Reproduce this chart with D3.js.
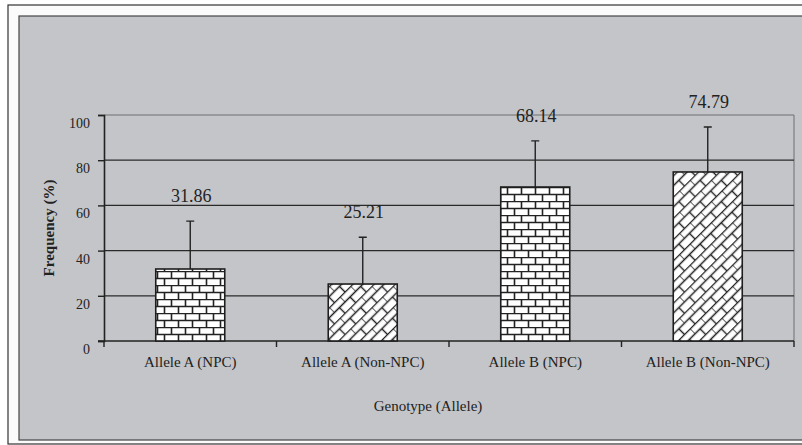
<!DOCTYPE html>
<html>
<head>
<meta charset="utf-8">
<script src="https://cdn.jsdelivr.net/npm/d3@7"></script>
<style>
  body { margin: 0; background: #fff; }
  svg text { font-family: "Liberation Serif", "Times New Roman", serif; fill: #222; }
</style>
</head>
<body>
<script>
// chart data
var categories = ["Allele A (NPC)", "Allele A (Non-NPC)", "Allele B (NPC)", "Allele B (Non-NPC)"];
var values = [31.86, 25.21, 68.14, 74.79];
var errors = [21.2, 20.7, 20.4, 19.9];
var fills = ["brick", "diagbrick", "brick", "diagbrick"];
var yTicks = [0, 20, 40, 60, 80, 100];

var width = 802, height = 445;
var plotLeft = 104, plotRight = 794, plotTop = 115, plotBottom = 341;

var svg = d3.select("body").append("svg")
    .attr("width", width)
    .attr("height", height);

// patterns
var defs = svg.append("defs");
var brick = defs.append("pattern")
    .attr("id", "brick")
    .attr("patternUnits", "userSpaceOnUse")
    .attr("width", 14).attr("height", 14)
    .attr("x", 0).attr("y", plotBottom);
brick.append("rect").attr("width", 14).attr("height", 14).attr("fill", "#fff");
brick.append("path")
    .attr("d", "M0,0.5H14M0,7.5H14M3.5,0V7M10.5,7V14")
    .attr("stroke", "#222").attr("stroke-width", 1.6).attr("fill", "none");

var diag = defs.append("pattern")
    .attr("id", "diagbrick")
    .attr("patternUnits", "userSpaceOnUse")
    .attr("width", 15).attr("height", 15)
    .attr("patternTransform", "rotate(-45)");
diag.append("rect").attr("width", 15).attr("height", 15).attr("fill", "#fff");
diag.append("path")
    .attr("d", "M0,0.5H15M0,7.5H15M0,0V7.5M7.5,7.5V15")
    .attr("stroke", "#222").attr("stroke-width", 1.4).attr("fill", "none");

// frame
svg.append("rect").attr("x", 8).attr("y", 5).attr("width", 800).attr("height", 439)
    .attr("fill", "#fbfbfb").attr("stroke", "#333").attr("stroke-width", 1.2);
svg.append("rect").attr("x", 19).attr("y", 16).attr("width", 790).attr("height", 424)
    .attr("fill", "#c4c5c8").attr("stroke", "#444").attr("stroke-width", 1.2);

var x = d3.scaleBand().domain(categories).range([plotLeft, plotRight]).paddingInner(0.6).paddingOuter(0.3);
var xb = d3.scaleBand().domain(categories).range([plotLeft, plotRight]);
var y = d3.scaleLinear().domain([0, 100]).range([plotBottom, plotTop]);

// plot area border (top and right)
svg.append("path")
    .attr("d", "M" + plotLeft + "," + y(100) + "H" + plotRight + "V" + y(0))
    .attr("fill", "none").attr("stroke", "#6e6e70").attr("stroke-width", 1);

// gridlines
svg.selectAll(".grid")
    .data(yTicks.filter(function (d) { return d > 0 && d < 100; }))
    .enter().append("line")
    .attr("x1", plotLeft).attr("x2", plotRight)
    .attr("y1", function (d) { return y(d); })
    .attr("y2", function (d) { return y(d); })
    .attr("stroke", "#2a2a2a").attr("stroke-width", 1.3);

// y axis
var yAxis = svg.append("g")
    .attr("transform", "translate(" + plotLeft + ",0)")
    .call(d3.axisLeft(y).tickValues(yTicks).tickSize(6).tickPadding(8));
yAxis.select(".domain").attr("stroke", "#222").attr("stroke-width", 1.6);
yAxis.selectAll(".tick line").attr("stroke", "#222").attr("stroke-width", 1.4);
yAxis.selectAll(".tick text").attr("font-size", 14).attr("dy", "0.9em")
    .style("font-family", "'Liberation Serif', serif").attr("fill", "#222");

// x axis
var xAxis = svg.append("g")
    .attr("transform", "translate(0," + plotBottom + ")")
    .call(d3.axisBottom(xb).tickSize(0).tickPadding(15));
xAxis.select(".domain").remove();
svg.append("line").attr("x1", plotLeft - 6).attr("x2", plotRight)
    .attr("y1", plotBottom).attr("y2", plotBottom)
    .attr("stroke", "#222").attr("stroke-width", 1.6);
svg.selectAll(".xtick")
    .data(categories.concat(["end"]))
    .enter().append("line")
    .attr("x1", function (d, i) { return plotLeft + i * xb.bandwidth(); })
    .attr("x2", function (d, i) { return plotLeft + i * xb.bandwidth(); })
    .attr("y1", plotBottom).attr("y2", plotBottom + 6)
    .attr("stroke", "#222").attr("stroke-width", 1.4);
xAxis.selectAll(".tick text").attr("font-size", 15)
    .style("font-family", "'Liberation Serif', serif").attr("fill", "#222");

// bars
var bars = categories.map(function (c, i) {
    return { cat: c, value: values[i], err: errors[i], fill: fills[i] };
});

svg.selectAll(".err")
    .data(bars)
    .enter().append("path")
    .attr("d", function (d) {
        var cx = x(d.cat) + x.bandwidth() / 2;
        return "M" + cx + "," + y(d.value) + "V" + y(d.value + d.err) +
            "M" + (cx - 4) + "," + y(d.value + d.err) + "H" + (cx + 4);
    })
    .attr("stroke", "#222").attr("stroke-width", 1.4).attr("fill", "none");

svg.selectAll(".bar")
    .data(bars)
    .enter().append("rect")
    .attr("x", function (d) { return x(d.cat); })
    .attr("y", function (d) { return y(d.value); })
    .attr("width", x.bandwidth())
    .attr("height", function (d) { return y(0) - y(d.value); })
    .attr("fill", function (d) { return "url(#" + d.fill + ")"; })
    .attr("stroke", "#1e1e1e").attr("stroke-width", 1.6);

svg.selectAll(".lbl")
    .data(bars)
    .enter().append("text")
    .attr("x", function (d) { return x(d.cat) + x.bandwidth() / 2 + 1; })
    .attr("y", function (d) { return y(d.value + d.err) - 19; })
    .attr("text-anchor", "middle")
    .attr("font-size", 18)
    .text(function (d) { return d.value.toFixed(2); });

// axis titles
svg.append("text")
    .attr("transform", "translate(54," + ((plotTop + plotBottom) / 2) + ") rotate(-90)")
    .attr("text-anchor", "middle")
    .attr("font-size", 15).attr("font-weight", "bold")
    .text("Frequency (%)");

svg.append("text")
    .attr("x", 428).attr("y", 411)
    .attr("text-anchor", "middle")
    .attr("font-size", 15)
    .text("Genotype (Allele)");
</script>
</body>
</html>
